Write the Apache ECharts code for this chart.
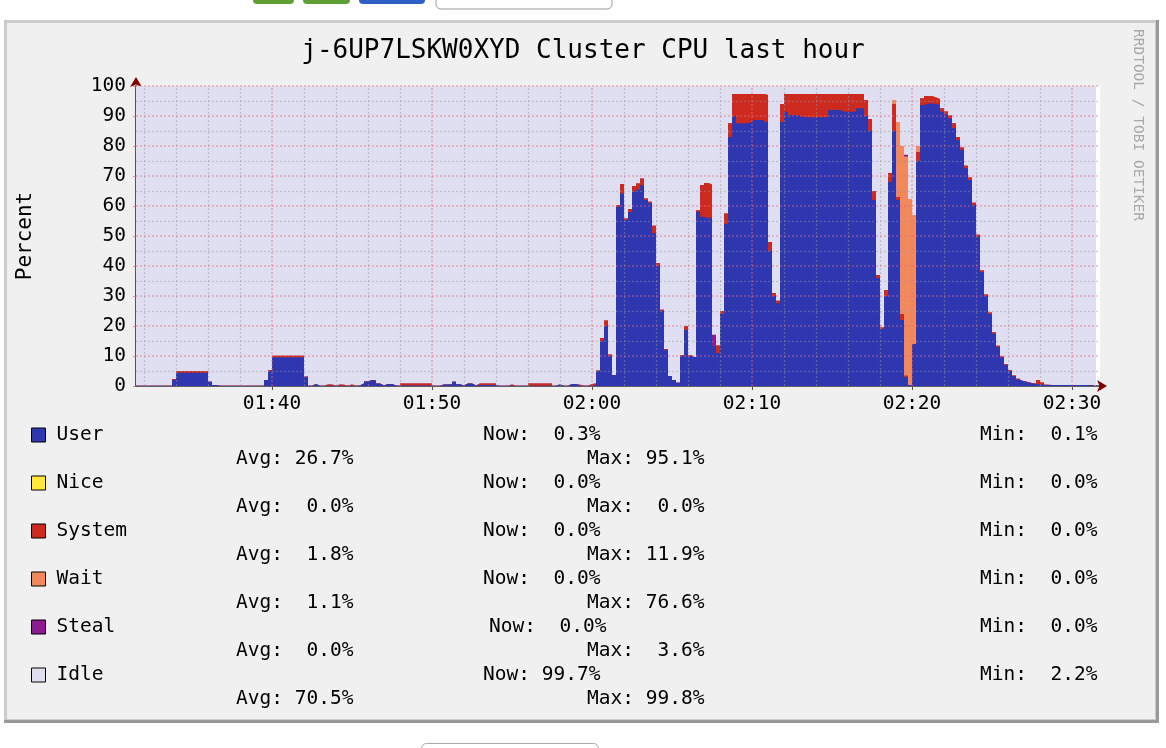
<!DOCTYPE html>
<html>
<head>
<meta charset="utf-8">
<script src="https://cdn.jsdelivr.net/npm/echarts@6.0.0/dist/echarts.min.js"></script>
<style>html,body{margin:0;padding:0;background:#fff;overflow:hidden}#c{width:1166px;height:748px}</style>
</head>
<body>
<div id="c"></div>
<script>
// ---------- data ----------
const titleText = 'j-6UP7LSKW0XYD Cluster CPU last hour';
const seriesNames = ['User', 'Nice', 'System', 'Wait', 'Steal', 'Idle'];
const seriesColors = ['#2e37b0', '#ffe83a', '#cc2a1e', '#f2895d', '#8a1c8f', '#dfdff1'];

// sample start (minutes of day, 01:31:30) and RRD step (15 s)
const T0 = 91.5;
const STEP = 0.25;
const X_MAX = 151.75;

const user = [
  0.1,0.1,0.1,0.1,0.1,0.1,0.1,0.1,0.1,2.0,
  4.4,4.4,4.4,4.4,4.4,4.4,4.4,4.4,1.4,0.3,
  0.1,0.1,0.1,0.1,0.1,0.1,0.1,0.1,0.1,0.1,
  0.1,0.1,2.0,5.0,9.6,9.6,9.6,9.6,9.6,9.6,
  9.6,9.6,3.0,0.1,0.7,0.1,0.1,0.1,0.1,0.1,
  0.1,0.1,0.1,0.1,0.1,0.2,0.8,1.5,2.0,1.8,
  0.8,0.2,0.7,0.7,0.2,0.1,0.2,0.2,0.2,0.2,
  0.2,0.2,0.2,0.2,0.1,0.1,0.5,0.5,0.6,1.4,
  0.6,0.2,0.8,0.8,0.2,0.3,0.3,0.3,0.3,0.3,
  0.1,0.1,0.1,0.1,0.1,0.1,0.1,0.1,0.1,0.1,
  0.1,0.1,0.1,0.1,0.1,0.5,0.1,0.1,0.7,0.7,
  0.1,0.1,0.1,0.2,0.2,5.0,15.0,20.0,10.0,3.7,
  59.8,64.2,55.3,58.0,64.8,65.5,67.0,62.0,61.0,50.9,
  40.0,25.0,12.0,3.3,2.0,1.1,10.0,18.7,10.0,9.6,
  58.1,56.4,55.8,56.3,13.5,11.0,24.0,54.0,83.0,89.8,
  87.6,87.6,87.6,88.0,88.7,88.7,88.7,88.0,45.0,30.0,
  27.6,88.0,91.4,90.3,90.3,90.0,89.6,89.6,89.6,89.6,
  89.6,89.6,89.6,92.0,92.0,92.0,91.4,91.4,91.4,91.5,
  92.6,92.6,90.0,85.0,62.0,36.0,19.0,30.0,68.0,85.0,
  62.0,22.0,3.0,0.3,14.0,75.0,93.7,94.2,94.2,94.0,
  93.7,91.4,90.5,89.2,85.9,82.0,78.7,72.6,68.7,60.3,
  49.8,38.0,30.0,24.0,17.5,13.0,9.5,7.0,5.0,3.3,
  2.2,1.6,1.2,0.9,0.7,0.5,0.4,0.3,0.3,0.3,
  0.3,0.3,0.3,0.3,0.3,0.3,0.3,0.3,0.3,0.3,
  0.3
];
const nice = [];
const system = [
  0,0,0,0,0,0,0,0,0,0.3,
  0.6,0.6,0.6,0.6,0.6,0.6,0.6,0.6,0,0,
  0,0,0,0,0,0,0,0,0,0,
  0,0,0,0.3,0.5,0.5,0.5,0.5,0.5,0.5,
  0.5,0.5,0.2,0,0,0,0,0.4,0.4,0,
  0.4,0.3,0,0.4,0,0,0,0,0,0,
  0,0,0,0,0,0,0.6,0.6,0.6,0.6,
  0.6,0.6,0.6,0.6,0,0,0,0,0,0,
  0,0,0,0,0,0.5,0.5,0.5,0.5,0.5,
  0,0,0,0.4,0,0,0,0,0.7,0.7,
  0.7,0.7,0.7,0.7,0,0,0,0,0,0,
  0.3,0,0,0.5,0.6,0.2,1.0,1.8,0.5,0,
  0.5,3.1,0.5,1.0,1.9,2.0,2.2,0.5,0.4,2.5,
  1.0,0.4,0.3,0,0,0,0.3,1.3,0.3,0,
  0.5,10.6,11.9,10.9,0,2.5,1.0,3.5,4.6,7.5,
  9.7,9.7,9.7,9.3,8.6,8.6,8.6,9.0,3.0,1.0,
  0.8,6.0,5.9,7.0,7.0,7.3,7.7,7.7,7.7,7.7,
  7.7,7.7,7.7,5.3,5.3,5.3,5.9,5.9,5.9,5.8,
  4.7,4.7,5.3,4.0,3.0,1.0,0.5,2.0,3.0,9.0,
  1.0,2.0,0.5,0,0,3.0,2.2,2.5,2.5,2.2,
  2.0,1.2,1.0,1.0,1.7,1.0,0.8,0.8,0.8,0.8,
  0.6,0.6,0.5,0.5,0.4,0.4,0.3,0.3,0.3,0.2,
  0.2,0.1,0.1,0.1,0.1,1.5,0.8,0.1,0,0,
  0,0,0,0,0,0,0,0,0,0,
  0
];
const wait = [
  0,0,0,0,0,0,0,0,0,0, 0,0,0,0,0,0,0,0,0,0,
  0,0,0,0,0,0,0,0,0,0, 0,0,0,0,0,0,0,0,0,0,
  0,0,0,0,0,0,0,0,0,0, 0,0,0,0,0,0,0,0,0,0,
  0,0,0,0,0,0,0,0,0,0, 0,0,0,0,0,0,0,0,0,0,
  0,0,0,0,0,0,0,0,0,0, 0,0,0,0,0,0,0,0,0,0,
  0,0,0,0,0,0,0,0,0,0, 0,0,0,0,0,0,0,0,0,0,
  0,0,0,0,0,0,0,0,0,0, 0,0,0,0,0,0,0,0,0,0,
  0,0,0,0,0,0,0,0,0,0, 0,0,0,0,0,0,0,0,0,0,
  0,0,0,0,0,0,0,0,0,0, 0,0,0,0,0,0,0,0,0,0,
  0,0,0,0,0,0,0,0,0,1.3,
  25,56,73,62,43,2,0,0,0,0,
  0,0,0,0,0,0,0,0,0,0, 0,0,0,0,0,0,0,0,0,0,
  0,0,0,0,0,0,0,0,0,0, 0,0,0,0,0,0,0,0,0,0,
  0
];
const steal = [
  0,0,0,0,0,0,0,0,0,0, 0,0,0,0,0,0,0,0,0,0,
  0,0,0,0,0,0,0,0,0,0, 0,0,0,0,0,0,0,0,0,0,
  0,0,0,0,0,0,0,0,0,0, 0,0,0,0,0,0,0,0,0,0,
  0,0,0,0,0,0,0,0,0,0, 0,0,0,0,0,0,0,0,0,0,
  0,0,0,0,0,0,0,0,0,0, 0,0,0,0,0,0,0,0,0,0,
  0,0,0,0,0,0,0,0,0,0, 0,0,0,0,0,0,0,0,0,0,
  0,0,0,0,0,0,0,0,0,0, 0,0,0,0,0,0,0,0,0,0,
  0,0,0,0,3.6,0,0,0,0,0,
  0,0,0,0,0,0,0,0,0,0, 0,0,0,0,0,0,0,0,0,0,
  0,0,0,0,0,0,0,0,0,0, 0,0,0,0,0,0,0,0,0,0,
  0,0,0.6,0,0,0,0,0,0,0,
  0,0,0,0,0,0,0,0,0,0, 0,0,0,0,0,0,0,0,0,0,
  0,0,0,0,0,0,0,0,0,0, 0,0,0,0,0,0,0,0,0,0,
  0
];

const nowVals = [0.3, 0.0, 0.0, 0.0, 0.0, 99.7];
const avgVals = [26.7, 0.0, 1.8, 1.1, 0.0, 70.5];
const maxVals = [95.1, 0.0, 11.9, 76.6, 3.6, 99.8];
const minVals = [0.1, 0.0, 0.0, 0.0, 0.0, 2.2];

const xLabelTicks = [100, 110, 120, 130, 140, 150];
const xMinorGrid = [92,94,96,98,102,104,106,108,112,114,116,118,122,124,126,128,132,134,136,138,142,144,146,148];
const yMajorGrid = [10,20,30,40,50,60,70,80,90,100];
const yMinorGrid = [5,15,25,35,45,55,65,75,85,95];

// ---------- build ----------
const MONO = '"DejaVu Sans Mono", "Liberation Mono", monospace';
const times = user.map((_, i) => T0 + i * STEP);
const pair = arr => arr.map((v, i) => [times[i], v]);
const addUp = (a, b) => a.map((v, i) => Math.round((v + b[i]) * 100) / 100);
const fmtTime = v => String(Math.floor(v / 60)).padStart(2, '0') + ':' + String(Math.round(v % 60)).padStart(2, '0');
const fmtStat = (label, v) => label + v.toFixed(1).padStart(5, ' ') + '%';

// stacked tops (user -> system -> wait -> steal), drawn back-to-front
const topUser = user;
const topSystem = addUp(topUser, system);
const topWait = addUp(topSystem, wait);
const topSteal = addUp(topWait, steal);

function areaSeries(idx, data) {
  const c = seriesColors[idx];
  return {
    name: seriesNames[idx], type: 'line',
    step: 'end', symbol: 'none', showSymbol: false, data: pair(data),
    color: c, itemStyle: { color: c }, lineStyle: { width: 0 },
    areaStyle: { color: c, opacity: 1 }, silent: true, z: 2,
    emphasis: { disabled: true }
  };
}

const minorLine = { color: 'rgba(150,150,162,0.45)', width: 1.3, type: [2, 2] };
const majorLine = { color: 'rgba(235,105,120,0.5)', width: 1.5, type: [2, 2] };
const gridLines = []
  .concat(xMinorGrid.map(v => ({ xAxis: v, lineStyle: minorLine })))
  .concat(yMinorGrid.map(v => ({ yAxis: v, lineStyle: minorLine })))
  .concat(xLabelTicks.map(v => ({ xAxis: v, lineStyle: majorLine })))
  .concat(yMajorGrid.map(v => ({ yAxis: v, lineStyle: majorLine })));

const series = [
  {
    name: 'Idle', type: 'line', data: [], color: seriesColors[5], z: 1, silent: true,
    markArea: {
      silent: true, itemStyle: { color: seriesColors[5], opacity: 1 },
      data: [[{ xAxis: times[0], yAxis: 0 }, { xAxis: times[times.length - 1], yAxis: 100 }]]
    }
  },
  areaSeries(4, topSteal),
  areaSeries(3, topWait),
  areaSeries(2, topSystem),
  { name: 'Nice', type: 'line', data: nice, color: seriesColors[1], symbol: 'none' },
  areaSeries(0, topUser),
  {
    name: 'grid', type: 'line', data: [], silent: true,
    markLine: { silent: true, symbol: ['none', 'none'], label: { show: false }, animation: false, z: 5, data: gridLines }
  }
];

// stats text
const statTexts = [];
seriesNames.forEach((n, r) => {
  const y1 = 435 + 48 * r, y2 = 459 + 48 * r;
  const nowX = n === 'Steal' ? 489 : 483;
  const t = (x, y, s) => ({ type: 'text', x, y, z: 10, silent: true,
    style: { text: s, font: '19.5px ' + MONO, fill: '#000', align: 'left', verticalAlign: 'middle' } });
  statTexts.push(t(nowX, y1, fmtStat('Now:', nowVals[r])));
  statTexts.push(t(980, y1, fmtStat('Min:', minVals[r])));
  statTexts.push(t(236, y2, fmtStat('Avg:', avgVals[r])));
  statTexts.push(t(587, y2, fmtStat('Max:', maxVals[r])));
});

const deco = [
  { type: 'rect', z: -10, silent: true, shape: { x: 4, y: 20, width: 1155, height: 703 }, style: { fill: '#999999' } },
  { type: 'rect', z: -10, silent: true, shape: { x: 4, y: 20, width: 1152, height: 700 }, style: { fill: '#cbcbcb' } },
  { type: 'rect', z: -10, silent: true, shape: { x: 7, y: 23, width: 1148, height: 696 }, style: { fill: '#f0f0f0' } },
  { type: 'rect', z: -10, silent: true, shape: { x: 253, y: -8, width: 41, height: 12, r: 4 }, style: { fill: '#5f9f36' } },
  { type: 'rect', z: -10, silent: true, shape: { x: 303, y: -8, width: 47, height: 12, r: 4 }, style: { fill: '#5f9f36' } },
  { type: 'rect', z: -10, silent: true, shape: { x: 359, y: -8, width: 66, height: 12, r: 4 }, style: { fill: '#2f5fc6' } },
  { type: 'rect', z: -10, silent: true, shape: { x: 436, y: -8, width: 176, height: 17, r: 5 }, style: { fill: '#ffffff', stroke: '#999', lineWidth: 1 } },
  { type: 'rect', z: -10, silent: true, shape: { x: 421.5, y: 743.5, width: 177, height: 20, r: 5 }, style: { fill: '#ffffff', stroke: '#aaa', lineWidth: 1 } },
  { type: 'text', z: 10, silent: true, x: 1138, y: 125, rotation: -Math.PI / 2,
    style: { text: 'RRDTOOL / TOBI OETIKER', font: '14.5px ' + MONO, fill: '#a8a8a8', align: 'center', verticalAlign: 'middle' } }
];

const option = {
  animation: false,
  backgroundColor: '#ffffff',
  title: {
    text: titleText, left: 'center', top: 33,
    textStyle: { fontFamily: MONO, fontSize: 26, fontWeight: 'normal', color: '#000' }
  },
  legend: {
    data: seriesNames, orient: 'vertical', left: 31, top: 423, padding: 0,
    itemGap: 24, itemWidth: 14, itemHeight: 14, icon: 'rect', selectedMode: false,
    itemStyle: { borderColor: '#000', borderWidth: 1 },
    textStyle: { fontFamily: MONO, fontSize: 19.5, color: '#000', lineHeight: 24, padding: [0, 0, 0, 6] }
  },
  grid: { left: 136, top: 86, width: 964, height: 300, show: true, backgroundColor: '#ffffff', borderWidth: 0 },
  xAxis: [
    {
      type: 'value', min: T0, max: X_MAX,
      axisLine: { show: true, onZero: false, lineStyle: { color: '#2c2c3a', width: 1.5 } },
      axisTick: { show: true, customValues: xLabelTicks, length: 4, lineStyle: { color: '#555' } },
      axisLabel: { show: true, customValues: xLabelTicks, formatter: fmtTime, fontFamily: MONO, fontSize: 19.5, color: '#000', margin: 8 },
      splitLine: { show: false }
    },
    {
      type: 'value', min: T0, max: X_MAX, position: 'bottom',
      axisLine: { show: true, onZero: false, symbol: ['none', 'arrow'], symbolSize: [9, 10], symbolOffset: [0, 7], lineStyle: { color: '#7f0000', width: 0 } },
      axisTick: { show: false }, axisLabel: { show: false }, splitLine: { show: false }
    }
  ],
  yAxis: [
    {
      type: 'value', min: 0, max: 100, interval: 10,
      name: 'Percent', nameLocation: 'middle', nameGap: 100, nameRotate: 90,
      nameTextStyle: { fontFamily: MONO, fontSize: 21, color: '#000' },
      axisLine: { show: true, onZero: false, lineStyle: { color: '#555', width: 2 } },
      axisTick: { show: true, length: 3, lineStyle: { color: 'rgba(220,90,90,0.7)' } },
      axisLabel: { fontFamily: MONO, fontSize: 19.5, color: '#000', margin: 10 },
      splitLine: { show: false }
    },
    {
      type: 'value', min: 0, max: 100, position: 'left',
      axisLine: { show: true, onZero: false, symbol: ['none', 'arrow'], symbolSize: [9, 10], symbolOffset: [0, 9], lineStyle: { color: '#7f0000', width: 0 } },
      axisTick: { show: false }, axisLabel: { show: false }, splitLine: { show: false }
    }
  ],
  series: series,
  graphic: { elements: deco.concat(statTexts) }
};

const chart = echarts.init(document.getElementById('c'));
chart.setOption(option);
</script>
</body>
</html>
